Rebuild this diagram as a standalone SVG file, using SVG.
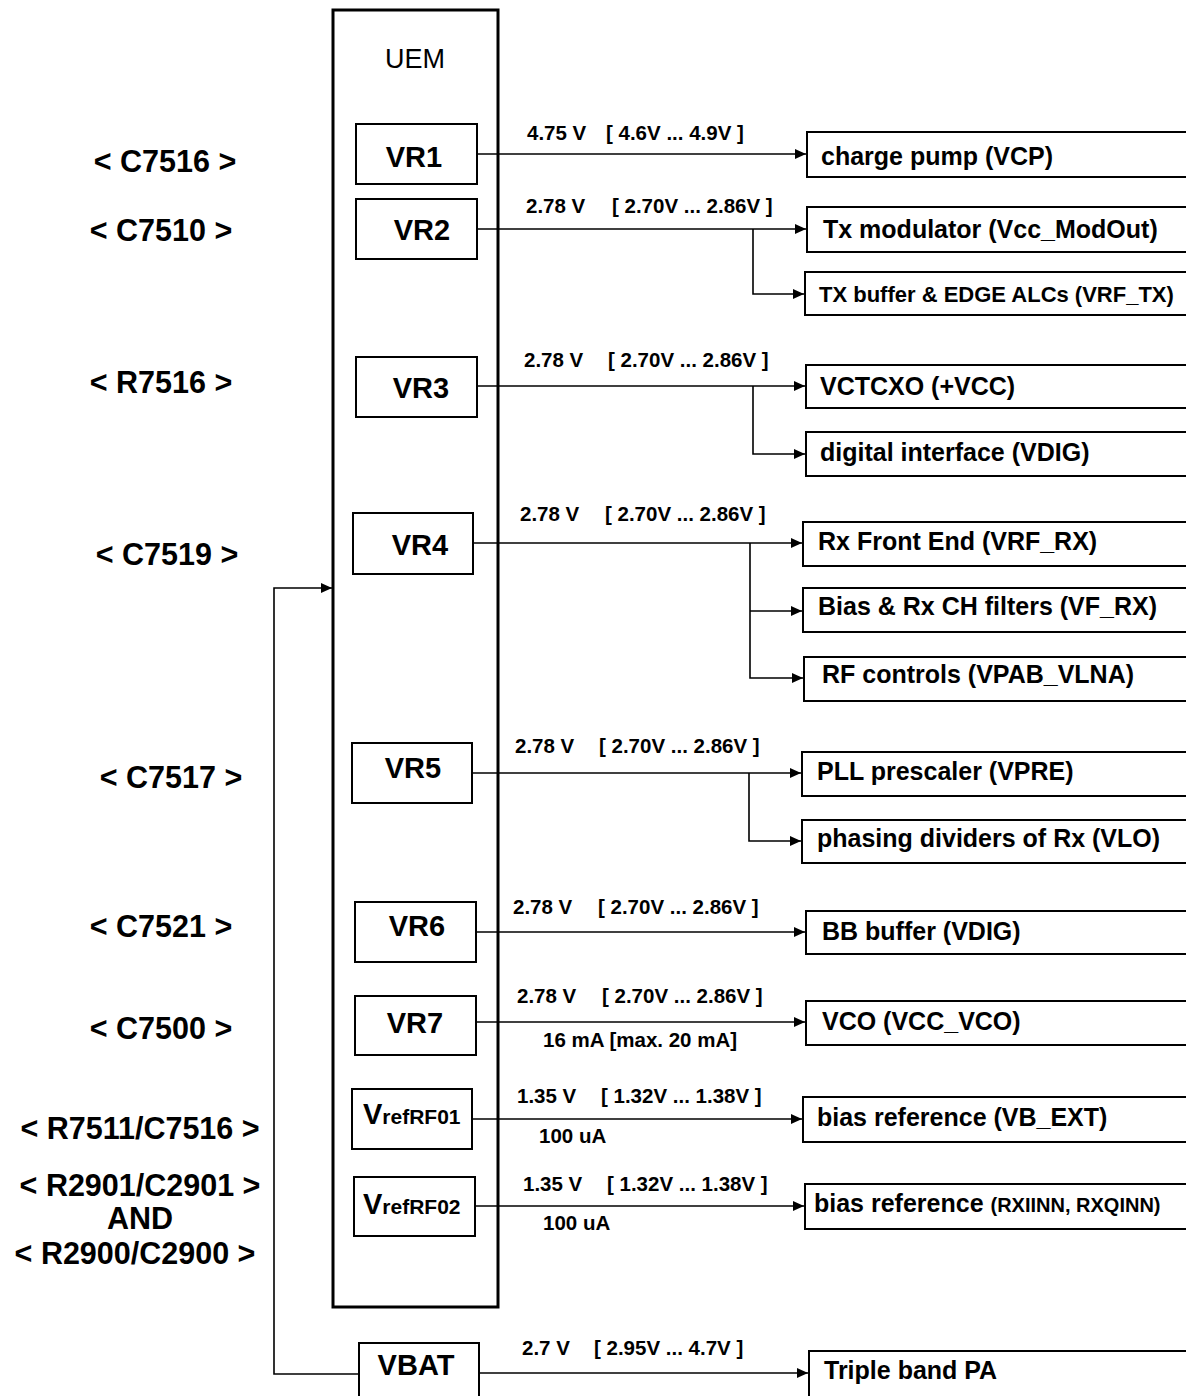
<svg xmlns="http://www.w3.org/2000/svg" width="1186" height="1396" viewBox="0 0 1186 1396">
<style>
.bg{fill:#fff}
.box{fill:#fff;stroke:#000;stroke-width:2}
.uem{fill:#fff;stroke:#000;stroke-width:3}
.conn{fill:none;stroke:#000;stroke-width:1.6}
text{font-family:"Liberation Sans",Arial,sans-serif;fill:#000}
.vr{font-size:29px;font-weight:bold;text-anchor:middle}
.lbl{font-size:20.5px;font-weight:bold}
.dst{font-size:25px;font-weight:bold}
.dsts{font-size:22px;font-weight:bold}
.ref{font-size:30.5px;font-weight:bold;text-anchor:middle}
.title{font-size:27px;text-anchor:middle}
</style>
<defs>
<marker id="arr" markerUnits="userSpaceOnUse" markerWidth="11" markerHeight="10" refX="11" refY="5" orient="auto">
<path d="M0,0 L11,5 L0,10 z" fill="#000"/>
</marker>
</defs>
<rect class="bg" x="0" y="0" width="1186" height="1396"/>

<g id="uem">
<rect class="uem" x="333" y="10" width="165" height="1297"/>
<text class="title" x="415" y="68">UEM</text>
</g>

<g id="refs">
<text class="ref" x="165" y="172">&lt; C7516 &gt;</text>
<text class="ref" x="161" y="241">&lt; C7510 &gt;</text>
<text class="ref" x="161" y="393">&lt; R7516 &gt;</text>
<text class="ref" x="167" y="565">&lt; C7519 &gt;</text>
<text class="ref" x="171" y="788">&lt; C7517 &gt;</text>
<text class="ref" x="161" y="937">&lt; C7521 &gt;</text>
<text class="ref" x="161" y="1039">&lt; C7500 &gt;</text>
<text class="ref" x="140" y="1139">&lt; R7511/C7516 &gt;</text>
<text class="ref" x="140" y="1196">&lt; R2901/C2901 &gt;</text>
<text class="ref" x="140" y="1229">AND</text>
<text class="ref" x="135" y="1264">&lt; R2900/C2900 &gt;</text>
</g>

<g id="connectors">
<line class="conn" x1="477" y1="154" x2="806" y2="154" marker-end="url(#arr)"/>
<line class="conn" x1="477" y1="229" x2="806" y2="229" marker-end="url(#arr)"/>
<polyline class="conn" points="753,229 753,294 804,294" marker-end="url(#arr)"/>
<line class="conn" x1="477" y1="386" x2="805" y2="386" marker-end="url(#arr)"/>
<polyline class="conn" points="753,386 753,454 805,454" marker-end="url(#arr)"/>
<line class="conn" x1="473" y1="543" x2="802" y2="543" marker-end="url(#arr)"/>
<polyline class="conn" points="750,543 750,678 803,678" marker-end="url(#arr)"/>
<line class="conn" x1="750" y1="611" x2="802" y2="611" marker-end="url(#arr)"/>
<line class="conn" x1="472" y1="773" x2="801" y2="773" marker-end="url(#arr)"/>
<polyline class="conn" points="749,773 749,841 801,841" marker-end="url(#arr)"/>
<line class="conn" x1="476" y1="932" x2="805" y2="932" marker-end="url(#arr)"/>
<line class="conn" x1="476" y1="1022" x2="805" y2="1022" marker-end="url(#arr)"/>
<line class="conn" x1="472" y1="1119" x2="802" y2="1119" marker-end="url(#arr)"/>
<line class="conn" x1="475" y1="1206" x2="804" y2="1206" marker-end="url(#arr)"/>
<line class="conn" x1="479" y1="1373" x2="808" y2="1373" marker-end="url(#arr)"/>
<polyline class="conn" points="359,1374 274,1374 274,588 332,588" marker-end="url(#arr)"/>
</g>

<g id="labels">
<text class="lbl" x="527" y="140">4.75 V<tspan x="606">[ 4.6V ... 4.9V ]</tspan></text>
<text class="lbl" x="526" y="213">2.78 V<tspan x="612">[ 2.70V ... 2.86V ]</tspan></text>
<text class="lbl" x="524" y="367">2.78 V<tspan x="608">[ 2.70V ... 2.86V ]</tspan></text>
<text class="lbl" x="520" y="521">2.78 V<tspan x="605">[ 2.70V ... 2.86V ]</tspan></text>
<text class="lbl" x="515" y="753">2.78 V<tspan x="599">[ 2.70V ... 2.86V ]</tspan></text>
<text class="lbl" x="513" y="914">2.78 V<tspan x="598">[ 2.70V ... 2.86V ]</tspan></text>
<text class="lbl" x="517" y="1003">2.78 V<tspan x="602">[ 2.70V ... 2.86V ]</tspan></text>
<text class="lbl" x="543" y="1047">16 mA [max. 20 mA]</text>
<text class="lbl" x="517" y="1103">1.35 V<tspan x="601">[ 1.32V ... 1.38V ]</tspan></text>
<text class="lbl" x="539" y="1143">100 uA</text>
<text class="lbl" x="523" y="1191">1.35 V<tspan x="607">[ 1.32V ... 1.38V ]</tspan></text>
<text class="lbl" x="543" y="1230">100 uA</text>
<text class="lbl" x="522" y="1355">2.7 V<tspan x="594">[ 2.95V ... 4.7V ]</tspan></text>
</g>

<g id="vr1"><rect class="box" x="356" y="124" width="121" height="60"/><text class="vr" x="414" y="167">VR1</text></g>
<g id="vr2"><rect class="box" x="356" y="199" width="121" height="60"/><text class="vr" x="422" y="240">VR2</text></g>
<g id="vr3"><rect class="box" x="356" y="357" width="121" height="60"/><text class="vr" x="421" y="398">VR3</text></g>
<g id="vr4"><rect class="box" x="353" y="513" width="120" height="61"/><text class="vr" x="420" y="555">VR4</text></g>
<g id="vr5"><rect class="box" x="352" y="743" width="120" height="60"/><text class="vr" x="413" y="778">VR5</text></g>
<g id="vr6"><rect class="box" x="355" y="902" width="121" height="60"/><text class="vr" x="417" y="936">VR6</text></g>
<g id="vr7"><rect class="box" x="355" y="996" width="121" height="59"/><text class="vr" x="415" y="1033">VR7</text></g>
<g id="vrefrf01"><rect class="box" x="352" y="1089" width="120" height="60"/><text x="363" y="1124" font-weight="bold"><tspan font-size="29px">V</tspan><tspan font-size="21px">refRF01</tspan></text></g>
<g id="vrefrf02"><rect class="box" x="354" y="1177" width="121" height="59"/><text x="363" y="1214" font-weight="bold"><tspan font-size="29px">V</tspan><tspan font-size="21px">refRF02</tspan></text></g>
<g id="vbat"><rect class="box" x="359" y="1343" width="120" height="70"/><text class="vr" x="416" y="1375">VBAT</text></g>

<g id="d-vcp"><rect class="box" x="807" y="132" width="400" height="45"/><text class="dst" x="821" y="165">charge pump (VCP)</text></g>
<g id="d-mod"><rect class="box" x="807" y="207" width="400" height="45"/><text class="dst" x="823" y="238">Tx modulator (Vcc_ModOut)</text></g>
<g id="d-txbuf"><rect class="box" x="805" y="272" width="400" height="43"/><text class="dsts" x="819" y="302">TX buffer &amp; EDGE ALCs (VRF_TX)</text></g>
<g id="d-vctcxo"><rect class="box" x="806" y="365" width="400" height="43"/><text class="dst" x="820" y="395">VCTCXO (+VCC)</text></g>
<g id="d-vdig"><rect class="box" x="806" y="432" width="400" height="44"/><text class="dst" x="820" y="461">digital interface (VDIG)</text></g>
<g id="d-rxfe"><rect class="box" x="803" y="522" width="400" height="44"/><text class="dst" x="818" y="550">Rx Front End (VRF_RX)</text></g>
<g id="d-bias"><rect class="box" x="803" y="588" width="400" height="44"/><text class="dst" x="818" y="615">Bias &amp; Rx CH filters (VF_RX)</text></g>
<g id="d-rfc"><rect class="box" x="804" y="657" width="400" height="44"/><text class="dst" x="822" y="683">RF controls (VPAB_VLNA)</text></g>
<g id="d-pll"><rect class="box" x="802" y="752" width="400" height="44"/><text class="dst" x="817" y="780">PLL prescaler (VPRE)</text></g>
<g id="d-phase"><rect class="box" x="802" y="820" width="400" height="43"/><text class="dst" x="817" y="847">phasing dividers of Rx (VLO)</text></g>
<g id="d-bb"><rect class="box" x="806" y="911" width="400" height="43"/><text class="dst" x="822" y="940">BB buffer (VDIG)</text></g>
<g id="d-vco"><rect class="box" x="806" y="1001" width="400" height="44"/><text class="dst" x="822" y="1030">VCO (VCC_VCO)</text></g>
<g id="d-vbext"><rect class="box" x="803" y="1097" width="400" height="45"/><text class="dst" x="817" y="1126">bias reference (VB_EXT)</text></g>
<g id="d-rxiinn"><rect class="box" x="805" y="1184" width="400" height="45"/><text class="dst" x="814" y="1212">bias reference <tspan font-size="20px">(RXIINN, RXQINN)</tspan></text></g>
<g id="d-pa"><rect class="box" x="809" y="1351" width="400" height="60"/><text class="dst" x="824" y="1379">Triple band PA</text></g>
</svg>
